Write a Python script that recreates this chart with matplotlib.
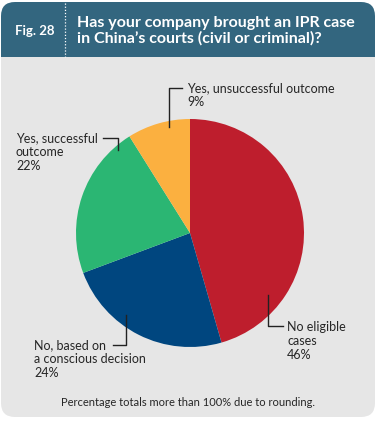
import matplotlib
matplotlib.use("Agg")
import matplotlib.pyplot as plt
from matplotlib.patches import FancyBboxPatch, Rectangle

plt.rcParams['font.family'] = ['Lato', 'DejaVu Sans']

categories = ["No eligible\ncases", "No, based on\na conscious decision",
              "Yes, successful\noutcome", "Yes, unsuccessful outcome"]
values = [46, 24, 22, 9]
colors = ["#BE1E2D", "#00467F", "#2BB673", "#FBB040"]
fig_label = "Fig. 28"
title = "Has your company brought an IPR case\nin China\u2019s courts (civil or criminal)?"
footnote = "Percentage totals more than 100% due to rounding."

W, H = 377, 427
fig = plt.figure(figsize=(W / 100, H / 100), dpi=100)
ax = fig.add_axes([0, 0, 1, 1])

def Y(y):
    return H - y

header_col = "#33667F"
panel_col = "#E6E6E6"

# panel (rounded)
ax.add_patch(FancyBboxPatch((1 + 14, Y(418) + 14), 374 - 28, 380 - 28,
                            boxstyle="round,pad=14", fc=panel_col, ec='none', zorder=0))
# header (rounded top)
ax.add_patch(FancyBboxPatch((1 + 14, Y(58) + 14), 374 - 28, 55 - 28,
                            boxstyle="round,pad=14", fc=header_col, ec='none', zorder=1))
ax.add_patch(Rectangle((1, Y(58)), 374, 16, fc=header_col, ec='none', zorder=1))
# dotted separator
ax.plot([65, 65], [Y(4), Y(58)], color='white', lw=0.9, ls=(0, (1, 1.5)), zorder=2)

ax.text(35, Y(31), fig_label, color='white', fontsize=9.5, fontweight='bold',
        ha='center', va='center', zorder=3)
ax.text(77, Y(31), title, color='white', fontsize=11.5, fontweight='bold',
        ha='left', va='center', linespacing=1.05, zorder=3)

# pie
cx, cy, r = 190, Y(234), 114
ax.pie(values, colors=colors, startangle=90, counterclock=False,
       center=(cx, cy), radius=r, wedgeprops=dict(linewidth=0), frame=True)
ax.set_xlim(0, W)
ax.set_ylim(0, H)
ax.set_aspect('equal')
ax.axis('off')

lc = "#222222"
lw = 1.0
tc = "#262626"
fs = 9.0

# Yes, unsuccessful
ax.plot([169, 169, 182], [Y(128), Y(89), Y(89)], color=lc, lw=lw, zorder=4)
ax.text(187, Y(82), f"{categories[3]}\n{values[3]}%", color=tc, fontsize=fs,
        ha='left', va='top', linespacing=1.2, zorder=4)
# Yes, successful
ax.plot([103, 118, 118], [Y(139), Y(139), Y(151)], color=lc, lw=lw, zorder=4)
ax.text(16, Y(132), f"{categories[2]}\n{values[2]}%", color=tc, fontsize=fs,
        ha='left', va='top', linespacing=1.2, zorder=4)
# No, based on
ax.plot([126, 126, 113], [Y(316), Y(346), Y(346)], color=lc, lw=lw, zorder=4)
ax.text(34, Y(339), f"{categories[1]}\n{values[1]}%", color=tc, fontsize=fs,
        ha='left', va='top', linespacing=1.2, zorder=4)
# No eligible
ax.plot([268, 268, 283], [Y(296), Y(327), Y(327)], color=lc, lw=lw, zorder=4)
ax.text(287, Y(321), f"{categories[0]}\n{values[0]}%", color=tc, fontsize=fs,
        ha='left', va='top', linespacing=1.2, zorder=4)

ax.text(188, Y(403), footnote, color=tc, fontsize=8.0, ha='center', va='center', zorder=4)

fig.savefig("out.png", dpi=100)
